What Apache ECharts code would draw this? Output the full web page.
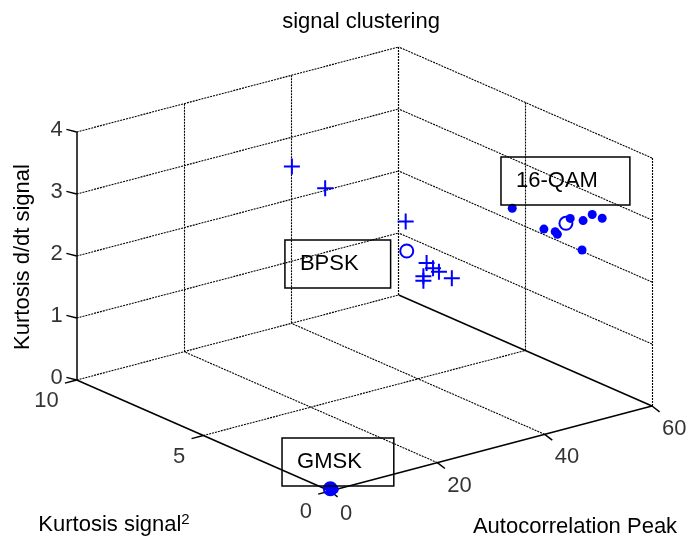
<!DOCTYPE html>
<html>
<head>
<meta charset="utf-8">
<title>signal clustering</title>
<script src="https://cdn.jsdelivr.net/npm/echarts@6/dist/echarts.min.js"></script>
<style>
  html, body { margin: 0; padding: 0; background: #fff; }
  #chart { width: 689px; height: 540px; }
</style>
</head>
<body>
<div id="chart"></div>
<script>
// tick values of the three axes
const xTicks = [0, 20, 40, 60]
const yTicks = [0, 5, 10]
const zTicks = [0, 1, 2, 3, 4]

// points: [autocorrelation peak, kurtosis signal^2, kurtosis d/dt signal]
const bpskPoints = [
  [16.5, 5, 3.96], [22.7, 5, 3.47], [37.7, 5, 2.59],
  [41.6, 5, 1.83], [42.8, 5, 1.72], [43.9, 5, 1.64],
  [46.3, 5, 1.48], [41.0, 5, 1.63], [41.0, 5, 1.56]
]
const qamPoints = [
  [43.4, 2, 3.21], [49.3, 2, 2.74], [51.4, 2, 2.65],
  [51.8, 2, 2.60], [54.2, 2, 2.80], [56.6, 2, 2.71],
  [58.3, 2, 2.77], [57.8, 1.5, 2.81], [56.4, 2, 2.24]
]
const gmskPoints = [
  [0, 0, 0], [0.6, 0.05, 0.02], [0.3, 0.1, 0.04], [0.8, 0, 0.01], [0.2, 0, 0.06]
]
const centers = [[37.9, 5, 2.11], [53.4, 2, 2.74], [0.3, 0.05, 0.02]]

// text boxes: [label, x, y, z]
const annotations = [
  ['16-QAM', 41.3, 2, 3.7],
  ['BPSK', 15.2, 5, 2.42],
  ['GMSK', 0.5, 2, 0.1]
]

const FONT = 'Liberation Sans, Arial, sans-serif'
const BLUE = '#0000ff'

// view of the 3d box on the page
const origin = [330, 491]
const xStep = [322 / 60, -85 / 60]
const yStep = [-25.33, -11.1]
const zStep = -62

const project = (p) => [
  origin[0] + p[0] * xStep[0] + p[1] * yStep[0],
  origin[1] + p[0] * xStep[1] + p[1] * yStep[1] + p[2] * zStep
]
const seg = (a, b) => ({ coords: [project(a), project(b)] })

const xMax = xTicks[xTicks.length - 1]
const yMax = yTicks[yTicks.length - 1]
const zMax = zTicks[zTicks.length - 1]

const dotted = []
xTicks.slice(1, -1).forEach(x => dotted.push(seg([x, 0, 0], [x, yMax, 0])))
yTicks.slice(1).forEach(y => dotted.push(seg([0, y, 0], [xMax, y, 0])))
xTicks.slice(1).forEach(x => dotted.push(seg([x, yMax, 0], [x, yMax, zMax])))
zTicks.slice(1).forEach(z => dotted.push(seg([0, yMax, z], [xMax, yMax, z])))
yTicks.forEach(y => dotted.push(seg([xMax, y, 0], [xMax, y, zMax])))
zTicks.slice(1).forEach(z => dotted.push(seg([xMax, 0, z], [xMax, yMax, z])))

const solid = [
  seg([0, 0, 0], [xMax, 0, 0]),
  seg([0, 0, 0], [0, yMax, 0]),
  seg([0, yMax, 0], [0, yMax, zMax]),
  seg([xMax, 0, 0], [xMax, yMax, 0])
]
xTicks.forEach(x => solid.push(seg([x, 0, 0], [x, -0.3, -0.04])))
yTicks.forEach(y => solid.push(seg([0, y, 0], [-2.2, y, 0])))
zTicks.forEach(z => solid.push(seg([0, yMax, z], [-0.5, yMax + 0.3, z])))

const tickLabels = (points, texts, label) => ({
  type: 'scatter',
  symbolSize: 0,
  silent: true,
  data: points.map((p, i) => ({ value: project(p), name: String(texts[i]) })),
  label: Object.assign({
    show: true,
    formatter: '{b}',
    color: '#000',
    fontSize: 22,
    fontFamily: FONT,
    verticalAlign: 'middle'
  }, label)
})

const plusPath = 'path://M0,7H16V9H0Z M7,0H9V16H7Z'

const chart = echarts.init(document.getElementById('chart'), null, { renderer: 'canvas' })

const option = {
  animation: false,
  grid: { left: 0, right: 0, top: 0, bottom: 0 },
  xAxis: { type: 'value', min: 0, max: 689, show: false },
  yAxis: { type: 'value', min: 0, max: 540, inverse: true, show: false },
  graphic: [
    {
      type: 'text', x: 361, y: 22,
      style: { text: 'signal clustering', fontSize: 22, fontFamily: FONT, fill: '#000', align: 'center', verticalAlign: 'middle' }
    },
    {
      type: 'text', x: 575, y: 527,
      style: { text: 'Autocorrelation Peak', fontSize: 22, fontFamily: FONT, fill: '#000', align: 'center', verticalAlign: 'middle' }
    },
    {
      type: 'text', x: 114, y: 525,
      style: {
        text: 'Kurtosis signal{sup|2}',
        fontSize: 22, fontFamily: FONT, fill: '#000', lineHeight: 26,
        align: 'center', verticalAlign: 'middle',
        rich: {
          sup: { fontSize: 15, lineHeight: 15, fontFamily: FONT, fill: '#000', verticalAlign: 'top' }
        }
      }
    },
    {
      type: 'text', x: 23, y: 257, rotation: Math.PI / 2,
      style: { text: 'Kurtosis d/dt signal', fontSize: 22, fontFamily: FONT, fill: '#000', align: 'center', verticalAlign: 'middle' }
    }
  ],
  series: [
    {
      type: 'lines',
      coordinateSystem: 'cartesian2d',
      silent: true,
      data: dotted,
      lineStyle: { color: '#000', width: 1.1, type: [2, 1], opacity: 1 }
    },
    {
      type: 'lines',
      coordinateSystem: 'cartesian2d',
      silent: true,
      data: solid,
      lineStyle: { color: '#000', width: 1.5, type: 'solid', opacity: 1 }
    },
    tickLabels(xTicks.map(x => [x, 0, 0]), xTicks, { position: [10, 23], align: 'left' }),
    tickLabels(yTicks.map(y => [0, y, 0]), yTicks, { position: [-18, 21], align: 'right' }),
    tickLabels(zTicks.map(z => [0, yMax, z]), zTicks, { position: [-14, -2], align: 'right' }),
    {
      type: 'scatter',
      symbolSize: 0,
      silent: true,
      data: annotations.map(a => ({ value: project(a.slice(1)), name: a[0] })),
      label: {
        show: true,
        formatter: '{b}',
        position: 'right',
        distance: 0,
        color: '#000',
        opacity: 1,
        textBorderWidth: 0,
        fontSize: 22,
        fontFamily: FONT,
        lineHeight: 26,
        padding: [11, 32, 11, 15],
        borderColor: '#000',
        borderWidth: 1.5
      }
    },
    {
      type: 'scatter',
      name: 'BPSK',
      symbol: plusPath,
      symbolSize: 16,
      data: bpskPoints.map(project),
      itemStyle: { color: BLUE, opacity: 1 }
    },
    {
      type: 'scatter',
      name: '16-QAM',
      symbol: 'circle',
      symbolSize: 9,
      data: qamPoints.map(project),
      itemStyle: { color: BLUE, opacity: 1 }
    },
    {
      type: 'scatter',
      name: 'GMSK',
      symbol: 'circle',
      symbolSize: 9,
      data: gmskPoints.map(project),
      itemStyle: { color: BLUE, opacity: 1 }
    },
    {
      type: 'scatter',
      name: 'centers',
      symbol: 'circle',
      symbolSize: 13,
      data: centers.map(project),
      itemStyle: { color: 'transparent', borderColor: BLUE, borderWidth: 2, opacity: 1 }
    }
  ]
}

chart.setOption(option)
</script>
</body>
</html>
